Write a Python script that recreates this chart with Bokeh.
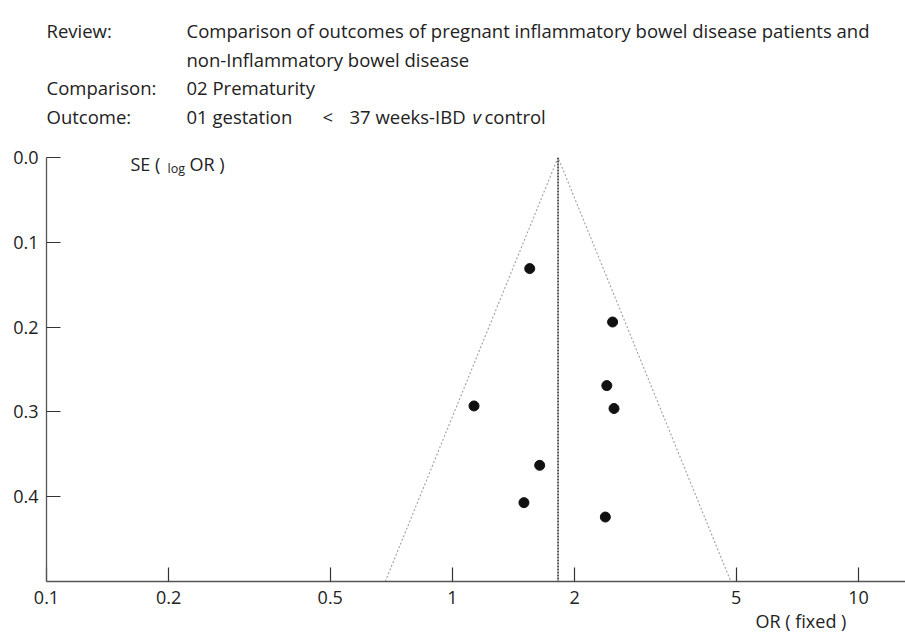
import numpy as np
from bokeh.plotting import figure
from bokeh.layouts import column
from bokeh.models import Range1d, FixedTicker, PrintfTickFormatter, Label, Title
from bokeh.embed import file_html
from bokeh.resources import INLINE

# ---- data ----
or_values = [1.55, 2.48, 2.40, 1.13, 2.50, 1.64, 1.50, 2.38]
se_values = [0.131, 0.194, 0.269, 0.293, 0.296, 0.363, 0.407, 0.424]
pooled_or = 1.82
se_max = 0.5
x_ticks = [0.1, 0.2, 0.5, 1, 2, 5, 10]
x_tick_labels = ["0.1", "0.2", "0.5", "1", "2", "5", "10"]
y_ticks = [0.0, 0.1, 0.2, 0.3, 0.4]

header_keys = ["Review:", "", "Comparison:", "Outcome:"]
header_vals = ["Comparison of outcomes of pregnant inflammatory bowel disease patients and",
               "non-Inflammatory bowel disease",
               "02 Prematurity",
               ""]
outcome_parts = ["01 gestation", "<", "37 weeks-IBD", "v", "control"]
outcome_styles = ["normal", "normal", "normal", "italic", "normal"]
x_axis_title = "OR ( fixed )"

FONT = "Open Sans"
TXT = "#222222"
W = 905
HEAD_H, MAIN_H = 140, 499
LEFT, TOP, BOTTOM = 46, 17, 58


def add_label(fig, txt, x, y, size="18.5px", style="normal", align="left", units="data"):
    fig.add_layout(Label(x=x, y=y, x_units=units, y_units=units, text=txt,
                         text_font=FONT, text_font_size=size, text_color=TXT,
                         text_font_style=style, text_align=align,
                         text_baseline="alphabetic"))


# ---- header (its frame is aligned with the main frame: x 46..905) ----
head = figure(width=W, height=HEAD_H, x_range=Range1d(LEFT, W), y_range=Range1d(HEAD_H, 0),
              output_backend="svg", toolbar_location=None, title=None,
              x_axis_location=None, y_axis_location=None, min_border=0)
head.outline_line_color = None
head.grid.visible = False

baselines = [30, 58.5, 87, 115.5]
for k, v, b in zip(header_keys, header_vals, baselines):
    if k:
        add_label(head, k, 46, b)
    if v:
        add_label(head, v, 186, b)
for part, style, xpos in zip(outcome_parts, outcome_styles, [186, 322, 349, 472, 484]):
    add_label(head, part, xpos, baselines[3], style=style)

# ---- main funnel plot ----
p = figure(width=W, height=MAIN_H, x_axis_type="log", title=None,
           x_range=Range1d(0.1, 13.06), y_range=Range1d(se_max, 0.0),
           output_backend="svg", toolbar_location=None,
           min_border_left=LEFT, min_border_right=0,
           min_border_top=TOP, min_border_bottom=BOTTOM)
p.outline_line_color = None
p.grid.visible = False

p.xaxis.ticker = FixedTicker(ticks=x_ticks)
p.xaxis.major_label_overrides = {t: l for t, l in zip(x_ticks, x_tick_labels)}
p.yaxis.ticker = FixedTicker(ticks=y_ticks)
p.yaxis.formatter = PrintfTickFormatter(format="%.1f")
for ax in (p.xaxis[0], p.yaxis[0]):
    ax.axis_line_color = "#555555"
    ax.axis_line_width = 1.3
    ax.major_tick_line_color = "#333333"
    ax.major_tick_line_width = 1.2
    ax.major_tick_in = 14
    ax.major_tick_out = 0
    ax.minor_tick_line_color = None
    ax.major_label_text_font = FONT
    ax.major_label_text_font_size = "18px"
    ax.major_label_text_color = TXT
p.yaxis.major_label_standoff = 8
p.xaxis.major_label_standoff = 9

p.add_layout(Title(text=x_axis_title, align="left", offset=755 - LEFT, standoff=0,
                   vertical_align="bottom",
                   text_font=FONT, text_font_size="18px", text_font_style="normal",
                   text_color=TXT), "below")

fx = [pooled_or * np.exp(-1.96 * se_max), pooled_or, pooled_or * np.exp(1.96 * se_max)]
fy = [se_max, 0.0, se_max]
p.line(fx, fy, line_color="#a0a0a0", line_dash="2 2", line_width=1.1)
p.line([pooled_or, pooled_or], [0.0, se_max], line_color="#333333", line_dash="2 1", line_width=1.6)
p.scatter(or_values, se_values, size=10, marker="circle",
          fill_color="#111111", line_color="#111111")

# y-axis title inside frame (screen units from frame bottom-left)
frame_bottom = HEAD_H + MAIN_H - BOTTOM
def main_label(txt, cx, cy, size="18px"):
    add_label(p, txt, cx - LEFT, frame_bottom - cy, size=size, units="screen")

main_label("SE (", 130, 163)
main_label("log", 167, 168, size="12.5px")
main_label("OR )", 189, 163)

layout = column(head, p, spacing=0)
open("out.html", "w").write(file_html(layout, INLINE))
